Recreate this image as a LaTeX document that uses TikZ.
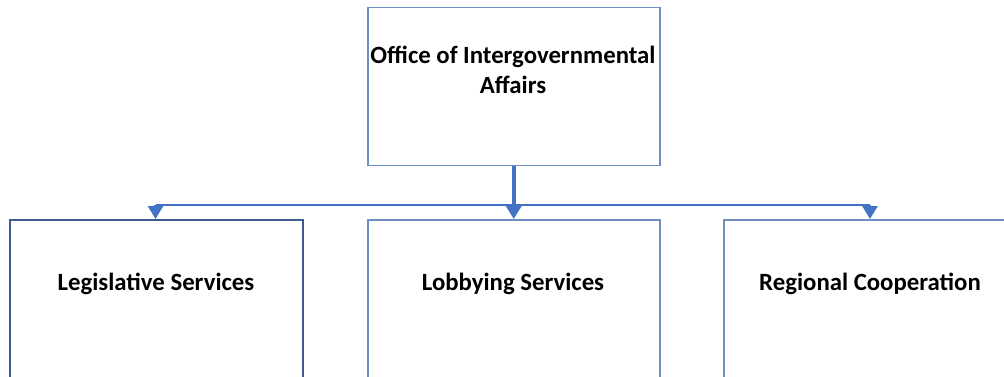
\documentclass[tikz,border=0pt]{standalone}
\usepackage{fontspec}
\setmainfont{Carlito}
\usetikzlibrary{arrows.meta}
\definecolor{boxline}{HTML}{6F8FC0}
\definecolor{boxdark}{HTML}{3F5C8E}
\definecolor{conn}{HTML}{4472C4}
\tikzset{
  orgbox/.style={draw=boxline, line width=1.5pt, fill=white, minimum width=292pt, minimum height=158pt, anchor=north west, inner sep=0pt},
  lbl/.style={font=\fontsize{24.8}{30}\selectfont\bfseries, align=center, text=black},
  link/.style={draw=conn, line width=2.6pt},
  tip/.style={-{Triangle[width=15pt,length=13pt]}}
}
\begin{document}
\begin{tikzpicture}[x=1pt,y=-1pt]
\useasboundingbox (0,0) rectangle (1004,377);
\clip (0,0) rectangle (1004,377);
\node[orgbox] (top) at (367,7) {};
\node[orgbox, draw=boxdark, minimum width=293pt, minimum height=200pt] (l) at (9,219) {};
\node[orgbox, minimum height=200pt] (m) at (367,219) {};
\node[orgbox, minimum height=200pt] (r) at (723,219) {};
\node[lbl] (toptxt) at (513,70) {Office of Intergovernmental\\Affairs};
\node[lbl, anchor=base] (ltxt) at (156,290) {Legislative Services};
\node[lbl, anchor=base] (mtxt) at (513,290) {Lobbying Services};
\node[lbl, anchor=base] (rtxt) at (870,290) {Regional Cooperation};
\coordinate (hl) at (155.5,205);
\coordinate (hr) at (870,205);
\draw[link] (hl) -- (hr);
\draw[link, line width=4pt, tip] (top.south) -- (m.north);
\draw[link, tip] (hl) -- (hl |- l.north);
\draw[link, tip] (hr) -- (hr |- r.north);
\end{tikzpicture}
\end{document}
